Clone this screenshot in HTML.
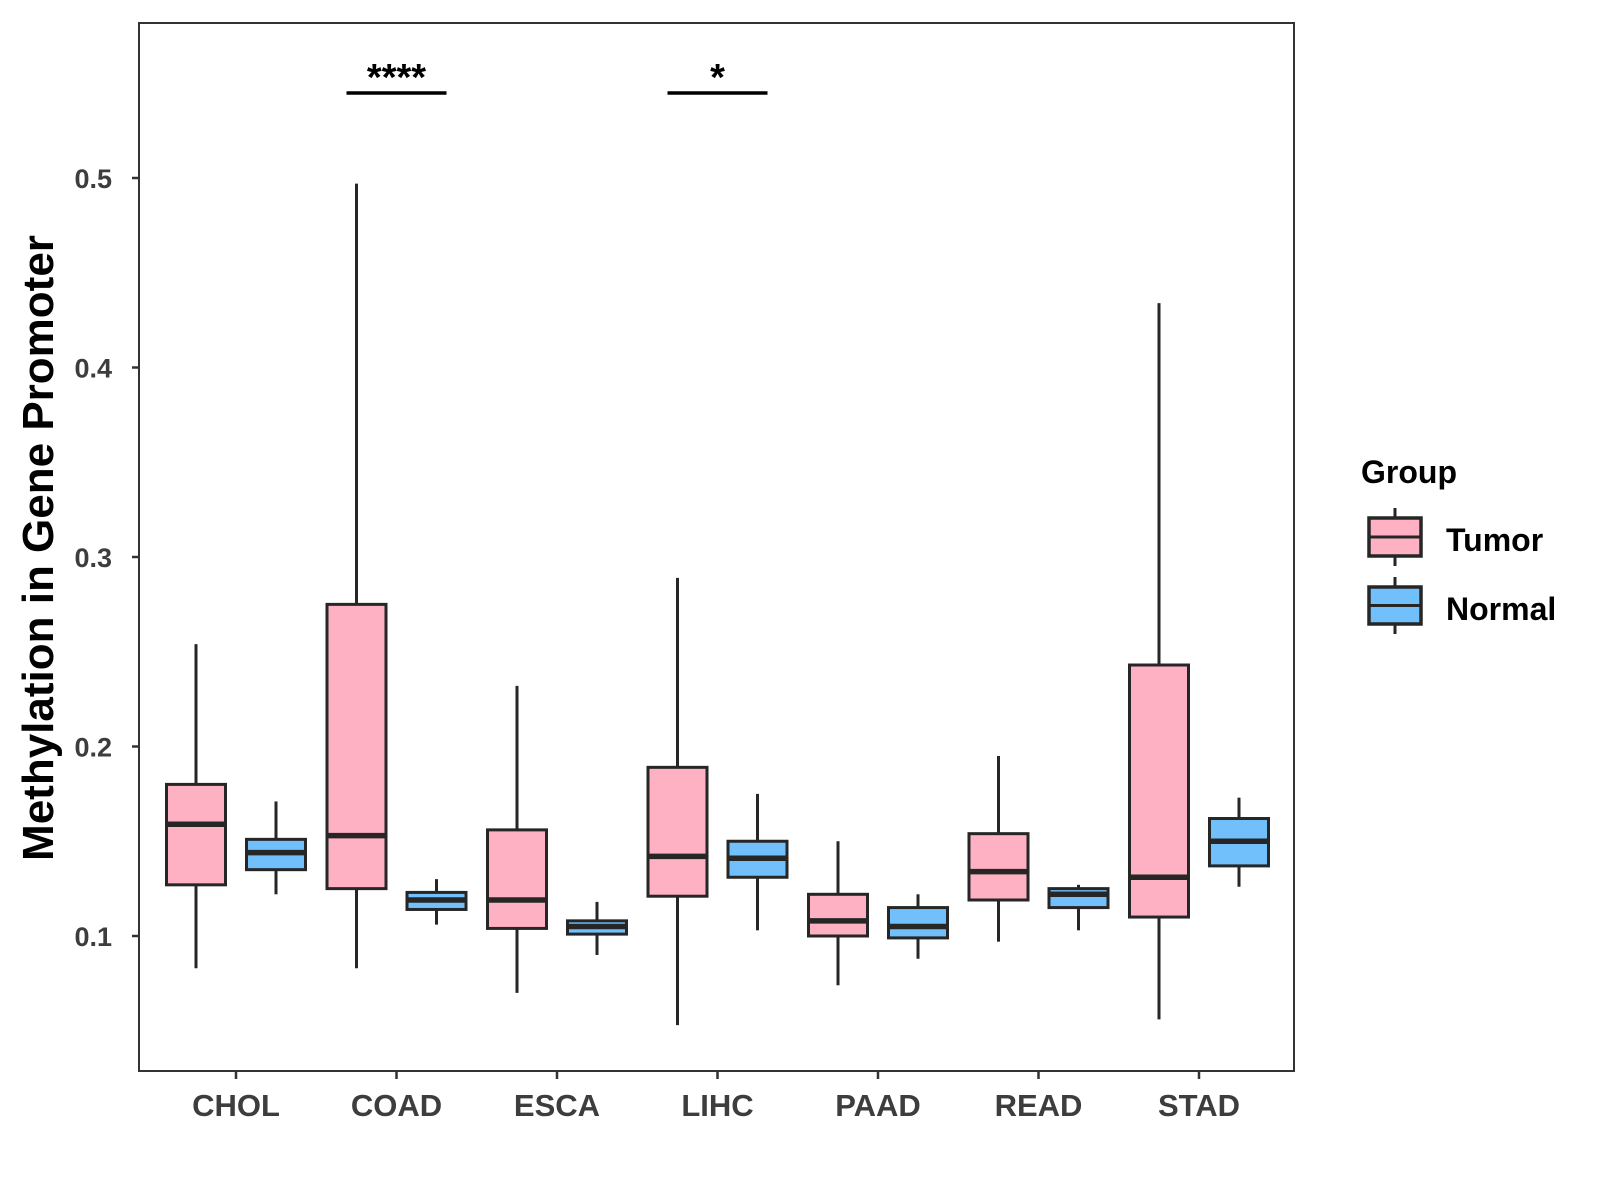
<!DOCTYPE html>
<html><head><meta charset="utf-8"><style>body{margin:0;background:#fff}svg{display:block;font-family:"Liberation Sans",Arial,sans-serif}</style></head>
<body>
<svg id="chart" width="1600" height="1200"></svg>
<script>
const categories=["CHOL","COAD","ESCA","LIHC","PAAD","READ","STAD"];
// [low, q1, median, q3, high]
const tumorStats=[[0.083,0.127,0.159,0.180,0.254],[0.083,0.125,0.153,0.275,0.497],[0.070,0.104,0.119,0.156,0.232],[0.053,0.121,0.142,0.189,0.289],[0.074,0.100,0.108,0.122,0.150],[0.097,0.119,0.134,0.154,0.195],[0.056,0.110,0.131,0.243,0.434]];
const normalStats=[[0.122,0.135,0.144,0.151,0.171],[0.106,0.114,0.119,0.123,0.130],[0.090,0.101,0.105,0.108,0.118],[0.103,0.131,0.141,0.150,0.175],[0.088,0.099,0.105,0.115,0.122],[0.103,0.115,0.122,0.125,0.127],[0.126,0.137,0.150,0.162,0.173]];
const yTicks=[0.1,0.2,0.3,0.4,0.5];
const yTickLabels=["0.1","0.2","0.3","0.4","0.5"];
const sigCategory=["COAD","LIHC"];
const sigLabels=["****","*"];

const NS="http://www.w3.org/2000/svg";
const svg=document.getElementById('chart');
const L=139,T=23,R=1294,B=1071;
function y(v){return 178+(0.5-v)*1895;}
function x(i){return 236+i*160.5;}
function mk(tag,attrs,parent){const e=document.createElementNS(NS,tag);for(const k in attrs)e.setAttribute(k,attrs[k]);(parent||svg).appendChild(e);return e;}
const INK="#262626";
function drawBox(cx,s,fill,w,g){
  mk('line',{x1:cx,x2:cx,y1:y(s[4]),y2:y(s[3]),stroke:INK,'stroke-width':3},g);
  mk('line',{x1:cx,x2:cx,y1:y(s[1]),y2:y(s[0]),stroke:INK,'stroke-width':3},g);
  mk('rect',{x:cx-w/2,y:y(s[3]),width:w,height:y(s[1])-y(s[3]),fill:fill,stroke:INK,'stroke-width':3},g);
  mk('line',{x1:cx-w/2,x2:cx+w/2,y1:y(s[2]),y2:y(s[2]),stroke:INK,'stroke-width':5.5},g);
}
yTicks.forEach((v,i)=>{
  const t=mk('line',{x1:L-7,x2:L,y1:y(v),y2:y(v),stroke:"#333",'stroke-width':2.5});
  
  
  const tx=mk('text',{x:L-27,y:y(v)+10,'text-anchor':'end','font-size':27,'font-weight':'bold',fill:'#3d3d3d'});
  tx.textContent=yTickLabels[i];
  
  
});
categories.forEach((c,i)=>{
  const g=mk('g',{});
  
  
  drawBox(x(i)-40,tumorStats[i],"#FFB1C4",59,g);
  drawBox(x(i)+40,normalStats[i],"#72C0FB",59,g);
  mk('line',{x1:x(i),x2:x(i),y1:B,y2:B+8,stroke:"#333",'stroke-width':2.5},g);
  const tx=mk('text',{x:x(i),y:1116,'text-anchor':'middle','font-size':31,'font-weight':'bold',fill:'#3d3d3d'},g);
  tx.textContent=c;
});
sigCategory.forEach((c,k)=>{
  const i=categories.indexOf(c);
  const g=mk('g',{});
  
  
  mk('line',{x1:x(i)-50,x2:x(i)+50,y1:93,y2:93,stroke:'#000','stroke-width':3.5},g);
  const tx=mk('text',{x:x(i),y:90,'text-anchor':'middle','font-size':38,'font-weight':'bold',fill:'#000'},g);
  tx.textContent=sigLabels[k];
});
const frame=mk('rect',{x:L,y:T,width:R-L,height:B-T,fill:'none',stroke:'#333','stroke-width':2});


const yt=mk('text',{x:0,y:0,transform:'translate(53,548) rotate(-90)','text-anchor':'middle','font-size':44,'font-weight':'bold',fill:'#000'});
yt.textContent='Methylation in Gene Promoter';


const lg=mk('g',{});


const lt=mk('text',{x:1361,y:483,'font-size':32,'font-weight':'bold',fill:'#000'},lg);
lt.textContent='Group';
[["Tumor","#FFB1C4",518,556,551],["Normal","#72C0FB",587,624,620]].forEach(d=>{
  const e=mk('g',{},lg);
  
  
  mk('line',{x1:1395,x2:1395,y1:d[2]-10,y2:d[3]+10,stroke:INK,'stroke-width':3},e);
  mk('rect',{x:1369,y:d[2],width:52,height:d[3]-d[2],fill:d[1],stroke:INK,'stroke-width':3.5},e);
  mk('line',{x1:1369,x2:1421,y1:(d[2]+d[3])/2,y2:(d[2]+d[3])/2,stroke:INK,'stroke-width':3},e);
  const t=mk('text',{x:1446,y:d[4],'font-size':32,'font-weight':'bold',fill:'#000'},e);
  t.textContent=d[0];
});
</script>
</body></html>
